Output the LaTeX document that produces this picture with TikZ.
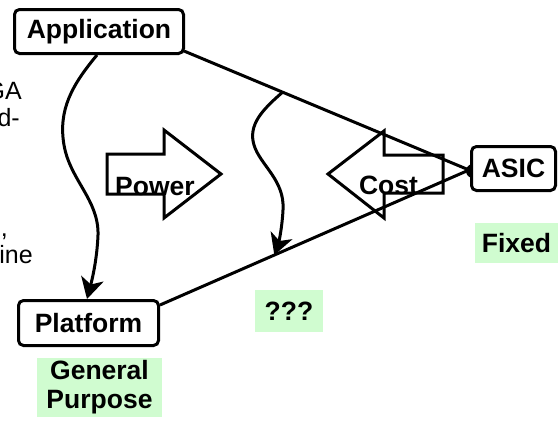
\documentclass[tikz,border=0pt]{standalone}
\usepackage{fontspec}
\setmainfont{Liberation Sans}
\usetikzlibrary{arrows.meta}
\definecolor{tagGreen}{RGB}{208,252,208}
\begin{document}
\begin{tikzpicture}[x=1pt,y=-1pt,
  box/.style={draw,line width=3pt,rounded corners=5pt,fill=white,inner sep=0pt,
    font=\fontsize{26.5}{30}\selectfont\bfseries},
  tag/.style={fill=tagGreen,inner sep=0pt,align=center,
    font=\fontsize{26.5}{29}\selectfont\bfseries},
  link/.style={line width=3pt},
  curvy/.style={line width=3pt,-{Stealth[length=21pt,width=23pt,inset=6pt]}},
  bigarrow/.style={line width=3pt,line join=miter},
  label/.style={anchor=base,inner sep=0pt,font=\fontsize{26.5}{30}\selectfont\bfseries},
  frag/.style={anchor=base east,inner sep=0pt,font=\fontsize{25}{28}\selectfont}]
\useasboundingbox (0,0) rectangle (558,426);

% leftover ends of the side text
\node[frag] (f1) at (22,99) {GA};
\node[frag] (f2) at (20,126) {d-};
\node[frag] (f3) at (8,236) {,};
\node[frag] (f4) at (33,263) {ine};

% design points
\node[box,minimum width=169pt,minimum height=44pt] (app) at (99,31.5) {Application};
\node[box,minimum width=140pt,minimum height=45pt] (plat) at (88.5,323) {Platform};
\node[box,minimum width=84pt,minimum height=44pt] (asic) at (513.5,168.5) {ASIC};

% green tags
\node[tag,minimum width=125pt,minimum height=59pt] (gp) at (99.5,387.5) {General\\Purpose};
\node[tag,minimum width=83pt,minimum height=40pt] (fx) at (516.5,243) {Fixed};
\node[tag,minimum width=68pt,minimum height=42pt] (qq) at (289,311) {???};

% connection points
\coordinate (appOut) at (184,51);
\coordinate (platOut) at (160,305);
\coordinate (asicIn) at (469,170);
\coordinate (appDown) at (97,55);
\coordinate (platIn) at (87,299);

% the two edges of the design space
\draw[link] (appOut) -- (asicIn) coordinate[pos=0.346] (midStart);
\draw[link] (platOut) -- (asicIn) coordinate[pos=0.37] (midEnd);
\begin{scope}
  \clip (0,0) rectangle (471,426);
  \fill (473,171) circle (7);
\end{scope}

% application to platform
\draw[curvy] (appDown) .. controls (72,85) and (58,110) .. (64,145)
  .. controls (70,180) and (99,200) .. (98,235)
  .. controls (97,260) and (92,280) .. (platIn);

% the middle way
\draw[curvy] (midStart) .. controls (262,110) and (248,125) .. (254,145)
  .. controls (260,165) and (285,180) .. (283,210)
  .. controls (282,230) and (278,245) .. (midEnd);

% power and cost block arrows
\draw[bigarrow] (107,154) -- (164,154) -- (164,130) -- (221,174) -- (164,218)
  -- (164,194) -- (107,194) -- cycle;
\node[label] (pw) at (155,195) {Power};
\draw[bigarrow] (443,155) -- (384,155) -- (384,131) -- (328,174) -- (384,218)
  -- (384,193) -- (443,193) -- cycle;
\node[label] (cs) at (388.5,194) {Cost};
\end{tikzpicture}
\end{document}
